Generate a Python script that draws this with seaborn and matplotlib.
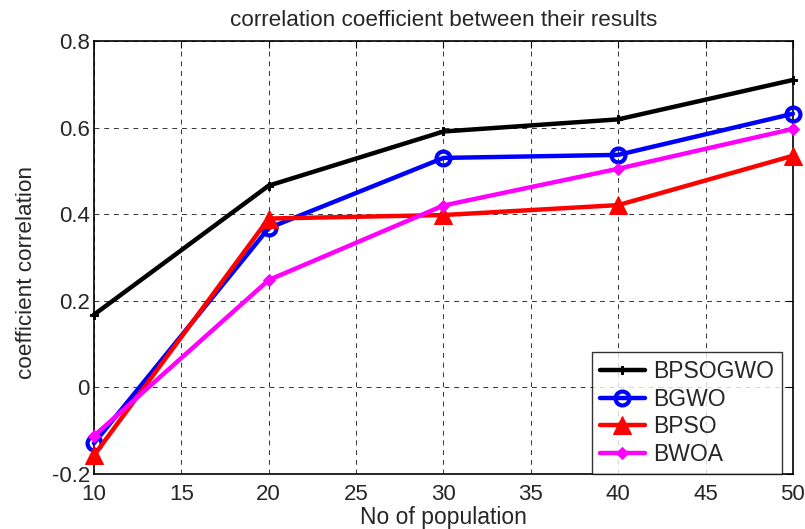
import matplotlib
matplotlib.use("Agg")
import matplotlib.pyplot as plt
import seaborn as sns
import pandas as pd

population = [10, 20, 30, 40, 50]
bpsogwo = [0.168, 0.466, 0.591, 0.619, 0.710]
bgwo = [-0.129, 0.368, 0.530, 0.537, 0.632]
bpso = [-0.157, 0.390, 0.398, 0.421, 0.535]
bwoa = [-0.112, 0.248, 0.420, 0.505, 0.597]

series = {"BPSOGWO": bpsogwo, "BGWO": bgwo, "BPSO": bpso, "BWOA": bwoa}
styles = {
    "BPSOGWO": dict(color="black", marker="P", markersize=6, markerfacecolor="black", markeredgecolor="black"),
    "BGWO": dict(color="blue", marker="o", markersize=10, markerfacecolor="none", markeredgecolor="blue", markeredgewidth=3),
    "BPSO": dict(color="red", marker="^", markersize=13, markerfacecolor="red", markeredgecolor="red"),
    "BWOA": dict(color="magenta", marker="D", markersize=6, markerfacecolor="magenta", markeredgecolor="magenta"),
}

sns.set_style("white")
plt.rcParams["font.family"] = ["Liberation Sans", "DejaVu Sans"]

fig = plt.figure(figsize=(8.05, 5.29), dpi=100)
ax = fig.add_axes([0.1168, 0.104, 0.8682, 0.8185])

for name, vals in series.items():
    df = pd.DataFrame({"x": population, "y": vals})
    sns.lineplot(data=df, x="x", y="y", ax=ax, label=name, linewidth=3.2, clip_on=False, zorder=5, **styles[name])

ax.set_xlim(10, 50)
ax.set_ylim(-0.2, 0.8)
ax.set_xticks([10, 15, 20, 25, 30, 35, 40, 45, 50])
ax.set_yticks([-0.2, 0, 0.2, 0.4, 0.6, 0.8])
ax.set_yticklabels(["-0.2", "0", "0.2", "0.4", "0.6", "0.8"])
ax.grid(True, color="black", linestyle=(0, (5, 5)), linewidth=0.7, alpha=0.8)
ax.tick_params(direction="in", length=5, labelsize=16, top=True, right=True, color="black")
ax.tick_params(axis="y", pad=3)
ax.tick_params(axis="x", pad=7)
for sp in ax.spines.values():
    sp.set_color("black")
    sp.set_linewidth(1.2)

ax.set_xlabel("No of population", fontsize=16.5, labelpad=1)
ax.set_ylabel("coefficient correlation", fontsize=16.2)
ax.yaxis.set_label_coords(-0.081, 0.466)
ax.set_title("correlation coefficient between their results", fontsize=16.2, pad=11)

leg = ax.legend(loc="lower right", fontsize=16.5, frameon=True, fancybox=False,
                edgecolor="black", borderaxespad=0.0, bbox_to_anchor=(0.985, 0.0),
                handlelength=2.0, labelspacing=0.2, borderpad=0.35, handletextpad=0.35)
leg.get_frame().set_linewidth(1.0)
leg.set_zorder(10)

fig.savefig("out.png", dpi=100)
